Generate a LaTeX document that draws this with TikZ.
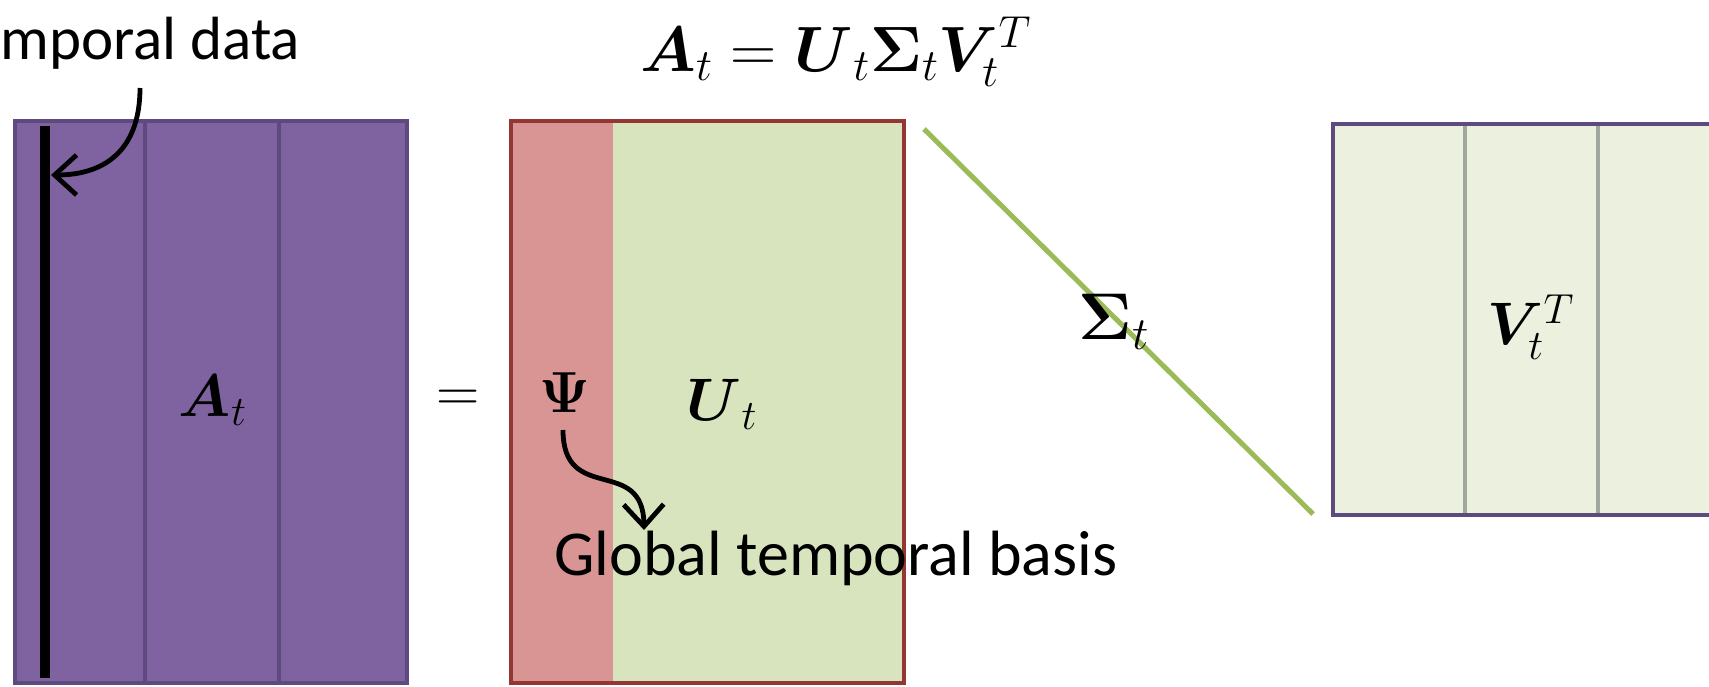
\RequirePackage{fix-cm}
\documentclass[tikz,border=0pt]{standalone}
\usepackage{amsmath,bm}
\usepackage{fontspec}
\setmainfont{Carlito}
\usetikzlibrary{arrows.meta}
\definecolor{purpleF}{HTML}{7F63A0}
\definecolor{purpleD}{HTML}{5E4A7E}
\definecolor{redD}{HTML}{943634}
\definecolor{pinkF}{HTML}{D99594}
\definecolor{greenF}{HTML}{D7E4BD}
\definecolor{sigmaG}{HTML}{9BBB59}
\definecolor{vF}{HTML}{EBF1DE}
\definecolor{vLine}{HTML}{A0A79D}
\tikzset{
  matbox/.style={inner sep=0pt, outer sep=0pt, line width=2pt},
  mlabel/.style={inner sep=0pt, font=\fontsize{30}{36}\selectfont},
  txt/.style={inner sep=0pt, font=\fontsize{30.5}{36}\selectfont},
  callout/.style={line width=2.4pt, -{Straight Barb[length=11pt,width=20pt]}}
}
\begin{document}
\begin{tikzpicture}[x=0.5pt,y=-0.5pt]
\useasboundingbox (0,0) rectangle (1709,686);
\clip (0,0) rectangle (1709,686);

% left matrix A_t
\node[matbox, draw=purpleD, fill=purpleF, minimum width=196pt, minimum height=281pt] (Abox) at (211,402) {};
\draw[purpleD, line width=1.75pt] (145,121) -- (145,683) (279,121) -- (279,683);
\coordinate (d1) at (45,126);
\coordinate (d2) at (45,678);
\draw[line width=5pt] (d1) -- (d2);
\coordinate (dtip) at (51,175);
\node[mlabel] (Alab) at (213,400) {$\bm{A}_t$};

\node[mlabel] (eq) at (458,401) {$=$};

% middle matrix U_t
\node[matbox, fill=greenF, minimum width=196.5pt, minimum height=281pt] (Ubox) at (707.5,402) {};
\fill[pinkF] (Ubox.north west) rectangle (613,683);
\draw[redD, line width=2pt] (Ubox.north west) rectangle (Ubox.south east);
\node[inner sep=0pt, font=\fontsize{29}{34}\selectfont] (psi) at (565,393) {$\bm{\Psi}$};
\node[mlabel] (Ulab) at (722,404) {$\bm{U}_{\,t}$};

% Sigma diagonal
\coordinate (s1) at (924,129);
\coordinate (s2) at (1313,514);
\draw[sigmaG, line width=2.5pt] (s1) -- (s2);
\node[inner sep=0pt, font=\fontsize{33}{38}\selectfont] (Slab) at (1114,322) {$\bm{\Sigma}_t$};

% right matrix V_t^T
\node[matbox, fill=vF, minimum width=199pt, minimum height=195.5pt] (Vbox) at (1532,319.5) {};
\draw[vLine, line width=1.75pt] (1465,124) -- (1465,515) (1598,124) -- (1598,515);
\draw[purpleD, line width=2pt] (Vbox.north west) rectangle (Vbox.south east);
\node[inner sep=0pt, font=\fontsize{30}{34}\selectfont] (Vlab) at (1531,327) {$\bm{V}_t^T$};

% equation
\node[inner sep=0pt, font=\fontsize{32}{38}\selectfont] (eqn) at (836,52) {$\bm{A}_t = \bm{U}_{\,t}\bm{\Sigma}_t\bm{V}_t^T$};

% texts and callouts
\node[txt, anchor=base west] (td) at (0,59) {mporal data};
\coordinate (tdarr) at (140,88);
\draw[callout] (tdarr) .. controls (140,150) and (105,175) .. (dtip);

\node[txt, anchor=base west, font=\fontsize{32}{38}\selectfont] (gtb) at (554,575) {Global temporal basis};
\coordinate (psiarr) at (563,430);
\coordinate (gtip) at (644,530);
\draw[callout] (psiarr) .. controls (563,505) and (643,455) .. (gtip);
\end{tikzpicture}
\end{document}
